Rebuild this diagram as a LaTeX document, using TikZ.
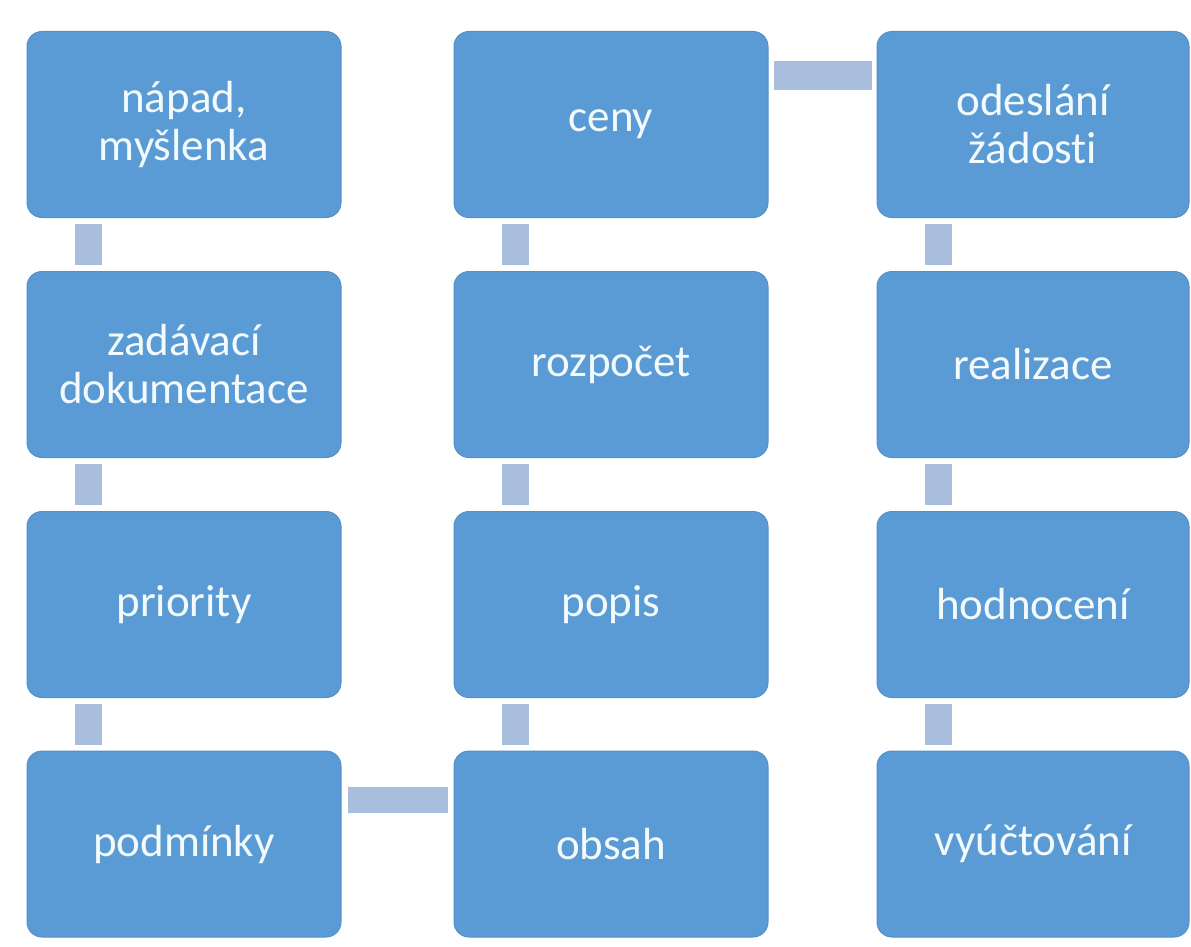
\documentclass[tikz,border=0pt]{standalone}
\usepackage{fontspec}
\setmainfont[Ligatures={NoCommon}]{Carlito}
\definecolor{boxblue}{HTML}{5B9BD5}
\definecolor{boxedge}{HTML}{5290CC}
\definecolor{connblue}{HTML}{A9BDDD}
\definecolor{txt}{HTML}{F2FAFC}
\begin{document}
\begin{tikzpicture}[x=1pt,y=1pt,
  stepbox/.style={rectangle, rounded corners=15pt, fill=boxblue, draw=boxedge, line width=1pt,
    minimum width=314pt, minimum height=186pt, text=txt, align=center,
    font=\fontsize{45}{48}\selectfont, inner sep=0pt},
  conn/.style={fill=connblue}]
\useasboundingbox (0,0) rectangle (1191,-947);
% column 1
\node[stepbox] (a1) at (184,-124.5) {nápad,\\myšlenka};
\node[stepbox] (a2) at (184,-364.5) {zadávací\\dokumentace};
\node[stepbox] (a3) at (184,-604.5) {priority};
\node[stepbox] (a4) at (184,-844) {podmínky};
% column 2
\node[stepbox] (b1) at (611,-124.5) {ceny};
\node[stepbox] (b2) at (611,-364.5) {rozpočet};
\node[stepbox] (b3) at (611,-604.5) {popis};
\node[stepbox] (b4) at (611,-844) {obsah};
% column 3
\node[stepbox, minimum width=312pt] (c1) at (1033,-124.5) {odeslání\\žádosti};
\node[stepbox, minimum width=312pt] (c2) at (1033,-364.5) {realizace};
\node[stepbox, minimum width=312pt] (c3) at (1033,-604.5) {hodnocení};
\node[stepbox, minimum width=312pt] (c4) at (1033,-844) {vyúčtování};
% vertical connectors (upper box / lower box)
\foreach \u/\l in {a1/a2,a2/a3,a3/a4,b1/b2,b2/b3,b3/b4,c1/c2,c2/c3,c3/c4}{
  \fill[conn] ([xshift=48pt,yshift=-6pt]\u.south west) rectangle ([xshift=75pt,yshift=6pt]\l.north west);
}
% horizontal connectors
\fill[conn] ([xshift=6pt,yshift=-36pt]a4.north east) rectangle ([xshift=-6pt,yshift=-62pt]b4.north west);
\fill[conn] ([xshift=5pt,yshift=-30pt]b1.north east) rectangle ([xshift=-5pt,yshift=-59pt]c1.north west);
\end{tikzpicture}
\end{document}
